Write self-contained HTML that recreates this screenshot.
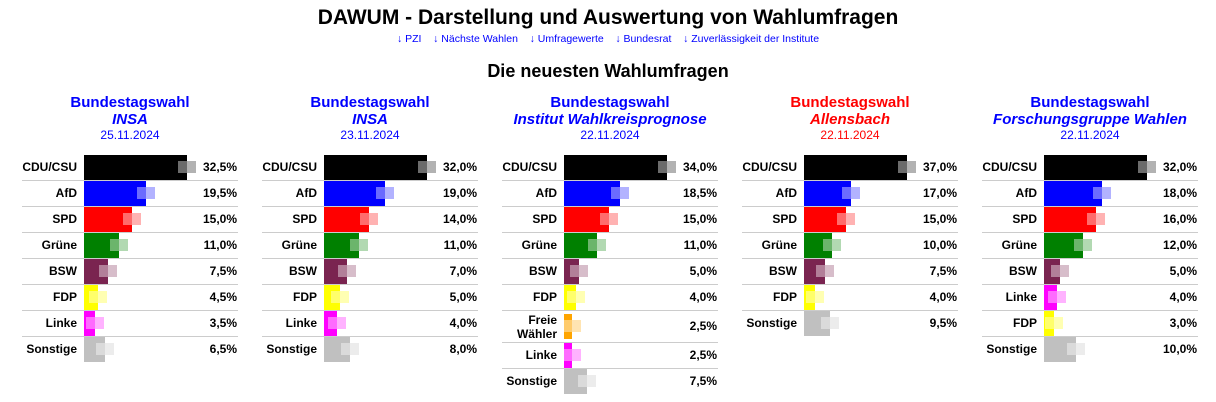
<!DOCTYPE html>
<html><head><meta charset="utf-8"><style>
body{margin:0;width:1216px;height:402px;background:#fff;font-family:"Liberation Sans",Arial,sans-serif;position:relative;overflow:hidden}
.t{position:absolute;left:0;width:1216px;text-align:center}
.c{position:absolute;top:0;width:240px;height:402px}
.h{position:absolute;left:20px;width:220px;text-align:center;font-weight:bold;font-size:15px;color:#00f}
.r{position:absolute;left:0;width:240px;height:26px;font-size:12px;font-weight:bold}
.r::after{content:"";position:absolute;left:22px;width:216px;bottom:0;height:1px;background:#ccc}
.r.z::after{display:none}
.l{position:absolute;right:163px;top:0;height:25px;line-height:25px;text-align:right;white-space:nowrap}
.p{position:absolute;right:3px;top:0;height:25px;line-height:25px}
.b{position:absolute;left:84px;top:0;height:25px;width:var(--w);background:var(--c)}
.m{position:absolute;top:6px;height:12px;width:9px;left:calc(75px + var(--w));background:rgba(255,255,255,.42)}
.o{position:absolute;top:6px;height:12px;width:9px;left:calc(84px + var(--w));background:var(--c);opacity:.3}
</style></head><body>
<div class="t" style="top:6px;font-size:21px;font-weight:bold">DAWUM - Darstellung und Auswertung von Wahlumfragen</div>
<div class="t" style="top:33px;font-size:10.5px;color:#00f">↓ PZI &nbsp;&nbsp; ↓ Nächste Wahlen &nbsp;&nbsp; ↓ Umfragewerte &nbsp;&nbsp; ↓ Bundesrat &nbsp;&nbsp; ↓ Zuverlässigkeit der Institute</div>
<div class="t" style="top:61px;font-size:18px;font-weight:bold">Die neuesten Wahlumfragen</div>

<div class="c" style="left:0">
<div class="h" style="top:94px">Bundestagswahl</div><div class="h" style="top:111px;font-style:italic">INSA</div><div class="h" style="top:128px;font-size:12px;font-weight:normal">25.11.2024</div>
<div class="r" style="top:155px;--w:103px;--c:#000"><span class="l">CDU/CSU</span><i class="b"></i><i class="m"></i><i class="o"></i><span class="p">32,5%</span></div>
<div class="r" style="top:181px;--w:62px;--c:#00f"><span class="l">AfD</span><i class="b"></i><i class="m"></i><i class="o"></i><span class="p">19,5%</span></div>
<div class="r" style="top:207px;--w:48px;--c:#f00"><span class="l">SPD</span><i class="b"></i><i class="m"></i><i class="o"></i><span class="p">15,0%</span></div>
<div class="r" style="top:233px;--w:35px;--c:#008000"><span class="l">Grüne</span><i class="b"></i><i class="m"></i><i class="o"></i><span class="p">11,0%</span></div>
<div class="r" style="top:259px;--w:24px;--c:#7a2450"><span class="l">BSW</span><i class="b"></i><i class="m"></i><i class="o"></i><span class="p">7,5%</span></div>
<div class="r" style="top:285px;--w:14px;--c:#ff0"><span class="l">FDP</span><i class="b"></i><i class="m"></i><i class="o"></i><span class="p">4,5%</span></div>
<div class="r" style="top:311px;--w:11px;--c:#f0f"><span class="l">Linke</span><i class="b"></i><i class="m"></i><i class="o"></i><span class="p">3,5%</span></div>
<div class="r z" style="top:337px;--w:21px;--c:#c0c0c0"><span class="l">Sonstige</span><i class="b"></i><i class="m"></i><i class="o"></i><span class="p">6,5%</span></div>
</div>

<div class="c" style="left:240px">
<div class="h" style="top:94px">Bundestagswahl</div><div class="h" style="top:111px;font-style:italic">INSA</div><div class="h" style="top:128px;font-size:12px;font-weight:normal">23.11.2024</div>
<div class="r" style="top:155px;--w:103px;--c:#000"><span class="l">CDU/CSU</span><i class="b"></i><i class="m"></i><i class="o"></i><span class="p">32,0%</span></div>
<div class="r" style="top:181px;--w:61px;--c:#00f"><span class="l">AfD</span><i class="b"></i><i class="m"></i><i class="o"></i><span class="p">19,0%</span></div>
<div class="r" style="top:207px;--w:45px;--c:#f00"><span class="l">SPD</span><i class="b"></i><i class="m"></i><i class="o"></i><span class="p">14,0%</span></div>
<div class="r" style="top:233px;--w:35px;--c:#008000"><span class="l">Grüne</span><i class="b"></i><i class="m"></i><i class="o"></i><span class="p">11,0%</span></div>
<div class="r" style="top:259px;--w:23px;--c:#7a2450"><span class="l">BSW</span><i class="b"></i><i class="m"></i><i class="o"></i><span class="p">7,0%</span></div>
<div class="r" style="top:285px;--w:16px;--c:#ff0"><span class="l">FDP</span><i class="b"></i><i class="m"></i><i class="o"></i><span class="p">5,0%</span></div>
<div class="r" style="top:311px;--w:13px;--c:#f0f"><span class="l">Linke</span><i class="b"></i><i class="m"></i><i class="o"></i><span class="p">4,0%</span></div>
<div class="r z" style="top:337px;--w:26px;--c:#c0c0c0"><span class="l">Sonstige</span><i class="b"></i><i class="m"></i><i class="o"></i><span class="p">8,0%</span></div>
</div>

<div class="c" style="left:480px">
<div class="h" style="top:94px">Bundestagswahl</div><div class="h" style="top:111px;font-style:italic">Institut Wahlkreisprognose</div><div class="h" style="top:128px;font-size:12px;font-weight:normal">22.11.2024</div>
<div class="r" style="top:155px;--w:103px;--c:#000"><span class="l">CDU/CSU</span><i class="b"></i><i class="m"></i><i class="o"></i><span class="p">34,0%</span></div>
<div class="r" style="top:181px;--w:56px;--c:#00f"><span class="l">AfD</span><i class="b"></i><i class="m"></i><i class="o"></i><span class="p">18,5%</span></div>
<div class="r" style="top:207px;--w:45px;--c:#f00"><span class="l">SPD</span><i class="b"></i><i class="m"></i><i class="o"></i><span class="p">15,0%</span></div>
<div class="r" style="top:233px;--w:33px;--c:#008000"><span class="l">Grüne</span><i class="b"></i><i class="m"></i><i class="o"></i><span class="p">11,0%</span></div>
<div class="r" style="top:259px;--w:15px;--c:#7a2450"><span class="l">BSW</span><i class="b"></i><i class="m"></i><i class="o"></i><span class="p">5,0%</span></div>
<div class="r" style="top:285px;--w:12px;--c:#ff0"><span class="l">FDP</span><i class="b"></i><i class="m"></i><i class="o"></i><span class="p">4,0%</span></div>
<div class="r" style="top:311px;height:32px;--w:8px;--c:#ffa500"><span class="l" style="height:31px;line-height:14px;top:2px">Freie<br>Wähler</span><i class="b" style="top:3px"></i><i class="m" style="top:9px"></i><i class="o" style="top:9px"></i><span class="p" style="top:3px">2,5%</span></div>
<div class="r" style="top:343px;--w:8px;--c:#f0f"><span class="l">Linke</span><i class="b"></i><i class="m"></i><i class="o"></i><span class="p">2,5%</span></div>
<div class="r z" style="top:369px;--w:23px;--c:#c0c0c0"><span class="l">Sonstige</span><i class="b"></i><i class="m"></i><i class="o"></i><span class="p">7,5%</span></div>
</div>

<div class="c" style="left:720px">
<div class="h" style="top:94px;color:#f00">Bundestagswahl</div><div class="h" style="top:111px;font-style:italic;color:#f00">Allensbach</div><div class="h" style="top:128px;font-size:12px;font-weight:normal;color:#f00">22.11.2024</div>
<div class="r" style="top:155px;--w:103px;--c:#000"><span class="l">CDU/CSU</span><i class="b"></i><i class="m"></i><i class="o"></i><span class="p">37,0%</span></div>
<div class="r" style="top:181px;--w:47px;--c:#00f"><span class="l">AfD</span><i class="b"></i><i class="m"></i><i class="o"></i><span class="p">17,0%</span></div>
<div class="r" style="top:207px;--w:42px;--c:#f00"><span class="l">SPD</span><i class="b"></i><i class="m"></i><i class="o"></i><span class="p">15,0%</span></div>
<div class="r" style="top:233px;--w:28px;--c:#008000"><span class="l">Grüne</span><i class="b"></i><i class="m"></i><i class="o"></i><span class="p">10,0%</span></div>
<div class="r" style="top:259px;--w:21px;--c:#7a2450"><span class="l">BSW</span><i class="b"></i><i class="m"></i><i class="o"></i><span class="p">7,5%</span></div>
<div class="r" style="top:285px;--w:11px;--c:#ff0"><span class="l">FDP</span><i class="b"></i><i class="m"></i><i class="o"></i><span class="p">4,0%</span></div>
<div class="r z" style="top:311px;--w:26px;--c:#c0c0c0"><span class="l">Sonstige</span><i class="b"></i><i class="m"></i><i class="o"></i><span class="p">9,5%</span></div>
</div>

<div class="c" style="left:960px">
<div class="h" style="top:94px">Bundestagswahl</div><div class="h" style="top:111px;font-style:italic">Forschungsgruppe Wahlen</div><div class="h" style="top:128px;font-size:12px;font-weight:normal">22.11.2024</div>
<div class="r" style="top:155px;--w:103px;--c:#000"><span class="l">CDU/CSU</span><i class="b"></i><i class="m"></i><i class="o"></i><span class="p">32,0%</span></div>
<div class="r" style="top:181px;--w:58px;--c:#00f"><span class="l">AfD</span><i class="b"></i><i class="m"></i><i class="o"></i><span class="p">18,0%</span></div>
<div class="r" style="top:207px;--w:52px;--c:#f00"><span class="l">SPD</span><i class="b"></i><i class="m"></i><i class="o"></i><span class="p">16,0%</span></div>
<div class="r" style="top:233px;--w:39px;--c:#008000"><span class="l">Grüne</span><i class="b"></i><i class="m"></i><i class="o"></i><span class="p">12,0%</span></div>
<div class="r" style="top:259px;--w:16px;--c:#7a2450"><span class="l">BSW</span><i class="b"></i><i class="m"></i><i class="o"></i><span class="p">5,0%</span></div>
<div class="r" style="top:285px;--w:13px;--c:#f0f"><span class="l">Linke</span><i class="b"></i><i class="m"></i><i class="o"></i><span class="p">4,0%</span></div>
<div class="r" style="top:311px;--w:10px;--c:#ff0"><span class="l">FDP</span><i class="b"></i><i class="m"></i><i class="o"></i><span class="p">3,0%</span></div>
<div class="r z" style="top:337px;--w:32px;--c:#c0c0c0"><span class="l">Sonstige</span><i class="b"></i><i class="m"></i><i class="o"></i><span class="p">10,0%</span></div>
</div>
</body></html>
